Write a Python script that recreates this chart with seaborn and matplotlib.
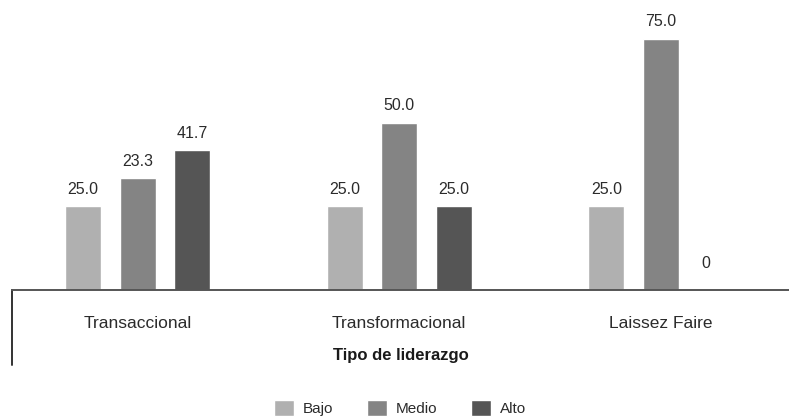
import matplotlib
matplotlib.use("Agg")
from matplotlib import pyplot as plt
import seaborn as sns
import pandas as pd

# data
categories = ['Transaccional', 'Transformacional', 'Laissez Faire']
levels = ['Bajo', 'Medio', 'Alto']
bajo = [25.0, 25.0, 25.0]
medio = [33.3, 50.0, 75.0]   # bar height drawn in the source
alto = [41.7, 25.0, 0.0]
# labels as printed in the source (the first Medio label reads 23.3)
bajo_lbl = ['25.0', '25.0', '25.0']
medio_lbl = ['23.3', '50.0', '75.0']
alto_lbl = ['41.7', '25.0', '0']
colors = ['#b0b0b0', '#848484', '#555555']

rows = []
for lvl, vals in zip(levels, [bajo, medio, alto]):
    for cat, v in zip(categories, vals):
        rows.append({'tipo': cat, 'nivel': lvl, 'pct': v})
df = pd.DataFrame(rows)

sns.set_style('white')
plt.rcParams['font.family'] = ['Liberation Sans', 'DejaVu Sans']
text_color = '#2b2b2b'

fig = plt.figure(figsize=(7.89, 4.18), dpi=100)
ax = fig.add_axes([12 / 789, 128 / 418, 777 / 789, 290 / 418])

sns.barplot(data=df, x='tipo', y='pct', hue='nivel', order=categories,
            hue_order=levels, palette=colors, width=0.625, gap=0.34,
            saturation=1, ax=ax)

# value labels above each bar
for cont, lbls in zip(ax.containers, [bajo_lbl, medio_lbl, alto_lbl]):
    for bar, txt in zip(cont, lbls):
        h = bar.get_height()
        off = 14 if h == 0 else 7
        ax.annotate(txt, (bar.get_x() + bar.get_width() / 2, h),
                    xytext=(-7 if h == 0 else 0, off), textcoords='offset points',
                    ha='center', va='bottom', fontsize=11.5, color=text_color)

ax.set_xlim(-0.48, 2.49)
ax.set_ylim(0, 86.6)
ax.set_yticks([])
ax.set_ylabel('')
for s in ['top', 'right', 'left']:
    ax.spines[s].set_visible(False)
ax.spines['bottom'].set_color('#555555')
ax.spines['bottom'].set_linewidth(1.4)
ax.tick_params(axis='x', length=0, pad=19, labelsize=12.5, labelcolor=text_color)
ax.set_xlabel('Tipo de liderazgo', fontsize=12, fontweight='bold',
              color='#1a1a1a', labelpad=12)

# short vertical rule under the axis on the left
ax.plot([0, 0], [0, -0.26], transform=ax.transAxes, color='#333333',
        lw=1.4, clip_on=False)

handles, labels = ax.get_legend_handles_labels()
ax.get_legend().remove()
fig.legend(handles, labels, loc='center', bbox_to_anchor=(400 / 789, 10 / 418),
           ncol=3, frameon=False, fontsize=11, handlelength=1.3, handleheight=1.3,
           handletextpad=0.6, columnspacing=2.2, labelcolor=text_color)

fig.savefig('out.png', dpi=100)
